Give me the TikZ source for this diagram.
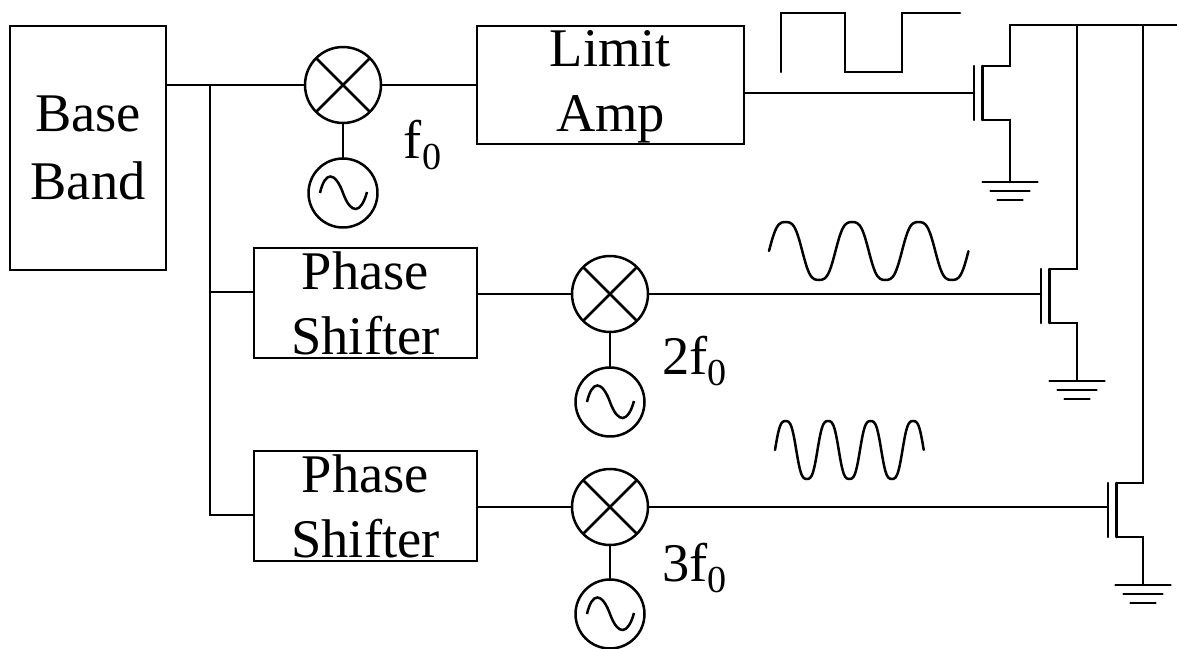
\documentclass[tikz,border=0pt]{standalone}
\usepackage{fontspec}
\setmainfont{Liberation Serif}
\usetikzlibrary{positioning,calc}
\newcommand{\gnd}[1]{%
  \draw[wire] (#1) ++(-27.5,0) -- ++(55,0);
  \draw[wire] (#1) ++(-19.5,9) -- ++(39,0);
  \draw[wire] (#1) ++(-12.5,18) -- ++(25,0);}
\newcommand{\fet}[2]{% name, gate point
  \coordinate (#1g) at (#2);
  \draw[wire] ($(#1g)+(0,-27)$) -- ($(#1g)+(0,27)$);
  \draw[wire] ($(#1g)+(8.5,-27)$) -- ($(#1g)+(8.5,27)$);}
\begin{document}
\begin{tikzpicture}[x=0.02cm, y=-0.02cm, line width=0.05cm, font=\fontsize{31}{37}\selectfont]
  \tikzset{wire/.style={draw, line cap=round},
    blockbox/.style={draw, align=center, inner sep=0pt, minimum width=#1},
    mixer/.style={draw, circle, minimum size=1.52cm, inner sep=0pt, path picture={
      \draw (path picture bounding box.north west) -- (path picture bounding box.south east);
      \draw (path picture bounding box.north east) -- (path picture bounding box.south west);}},
    source/.style={draw, circle, minimum size=1.38cm, inner sep=0pt, path picture={
      \draw ($(path picture bounding box.center)+(-23,0)$)
        .. controls +(5,-22) and +(-8,-22) .. ($(path picture bounding box.center)+(0,0)$)
        .. controls +(8,22) and +(-6,22) .. ($(path picture bounding box.center)+(24,-1)$);}}}
  \useasboundingbox (0,0) rectangle (1177,649);
  % blocks
  \node[blockbox=3.12cm, minimum height=4.88cm] (baseband) at (88,148) {Base\\[1.5pt]Band};
  \node[blockbox=5.34cm, minimum height=2.36cm] (limitamp) at (610.5,85) {\rule{0pt}{22.5pt}Limit\\Amp};
  \node[blockbox=4.46cm, minimum height=2.2cm] (shifta) at (365.5,303) {Phase\\Shifter};
  \node[blockbox=4.46cm, minimum height=2.2cm] (shiftb) at (365.5,506) {Phase\\Shifter};
  % mixers and oscillators
  \node[mixer] (mixa) at (343,85) {};
  \node[source] (srca) at (343,193) {};
  \node[mixer] (mixb) at (610,294) {};
  \node[source] (srcb) at (610,402) {};
  \node[mixer] (mixc) at (610,507) {};
  \node[source] (srcc) at (610,614) {};
  \node (fa) at (423,145) {f\textsubscript{0}};
  \node (fb) at (695,361) {2f\textsubscript{0}};
  \node (fc) at (695,568) {3f\textsubscript{0}};
  % input side
  \coordinate (tap) at (210,85);
  \coordinate (tapb) at (210,292);
  \coordinate (tapc) at (210,515);
  \draw[wire] (baseband.east |- tap) -- (mixa);
  \draw[wire] (tap) -- (tapc) -- (shiftb.west |- tapc);
  \draw[wire] (tapb) -- (shifta.west |- tapb);
  \draw[wire] (mixa) -- (limitamp.west |- mixa);
  \draw[wire] (mixa) -- (srca);
  \draw[wire] (mixb) -- (srcb);
  \draw[wire] (mixc) -- (srcc);
  \draw[wire] (shifta.east |- mixb) -- (mixb);
  \draw[wire] (shiftb.east |- mixc) -- (mixc);
  % transistors
  \fet{qa}{974,93}
  \fet{qb}{1041,296}
  \fet{qc}{1108,510}
  \draw[wire] (limitamp.east |- qag) -- (qag);
  \draw[wire] (mixb) -- (mixb -| qbg);
  \draw[wire] (mixc) -- (mixc -| qcg);
  \coordinate (gnda) at (1010,182);
  \coordinate (gndb) at (1077,381);
  \coordinate (gndc) at (1143,585);
  \draw[wire] ($(qag)+(8.5,-27)$) -| (1010,25) -- (1177,25);
  \draw[wire] ($(qag)+(8.5,27)$) -| (gnda);
  \draw[wire] (1077,25) |- ($(qbg)+(8.5,-27)$);
  \draw[wire] ($(qbg)+(8.5,27)$) -| (gndb);
  \draw[wire] (1143,25) |- ($(qcg)+(8.5,-27)$);
  \draw[wire] ($(qcg)+(8.5,27)$) -| (gndc);
  \gnd{gnda} \gnd{gndb} \gnd{gndc}
  % waveforms
  \draw[wire] (781,72) -- (781,13) -- (845,13) -- (845,72) -- (902,72) -- (902,13) -- (960,13);
  \draw[wire] plot[smooth, domain=0:3, samples=80] ({769+\x*66.5},{251-29*(sin(360*\x)+0.09*sin(1080*\x))/0.91});
  \draw[wire] plot[smooth, domain=0:3.5, samples=90] ({775+\x*42.5},{450-29*(sin(360*\x)+0.09*sin(1080*\x))/0.91});
\end{tikzpicture}
\end{document}
